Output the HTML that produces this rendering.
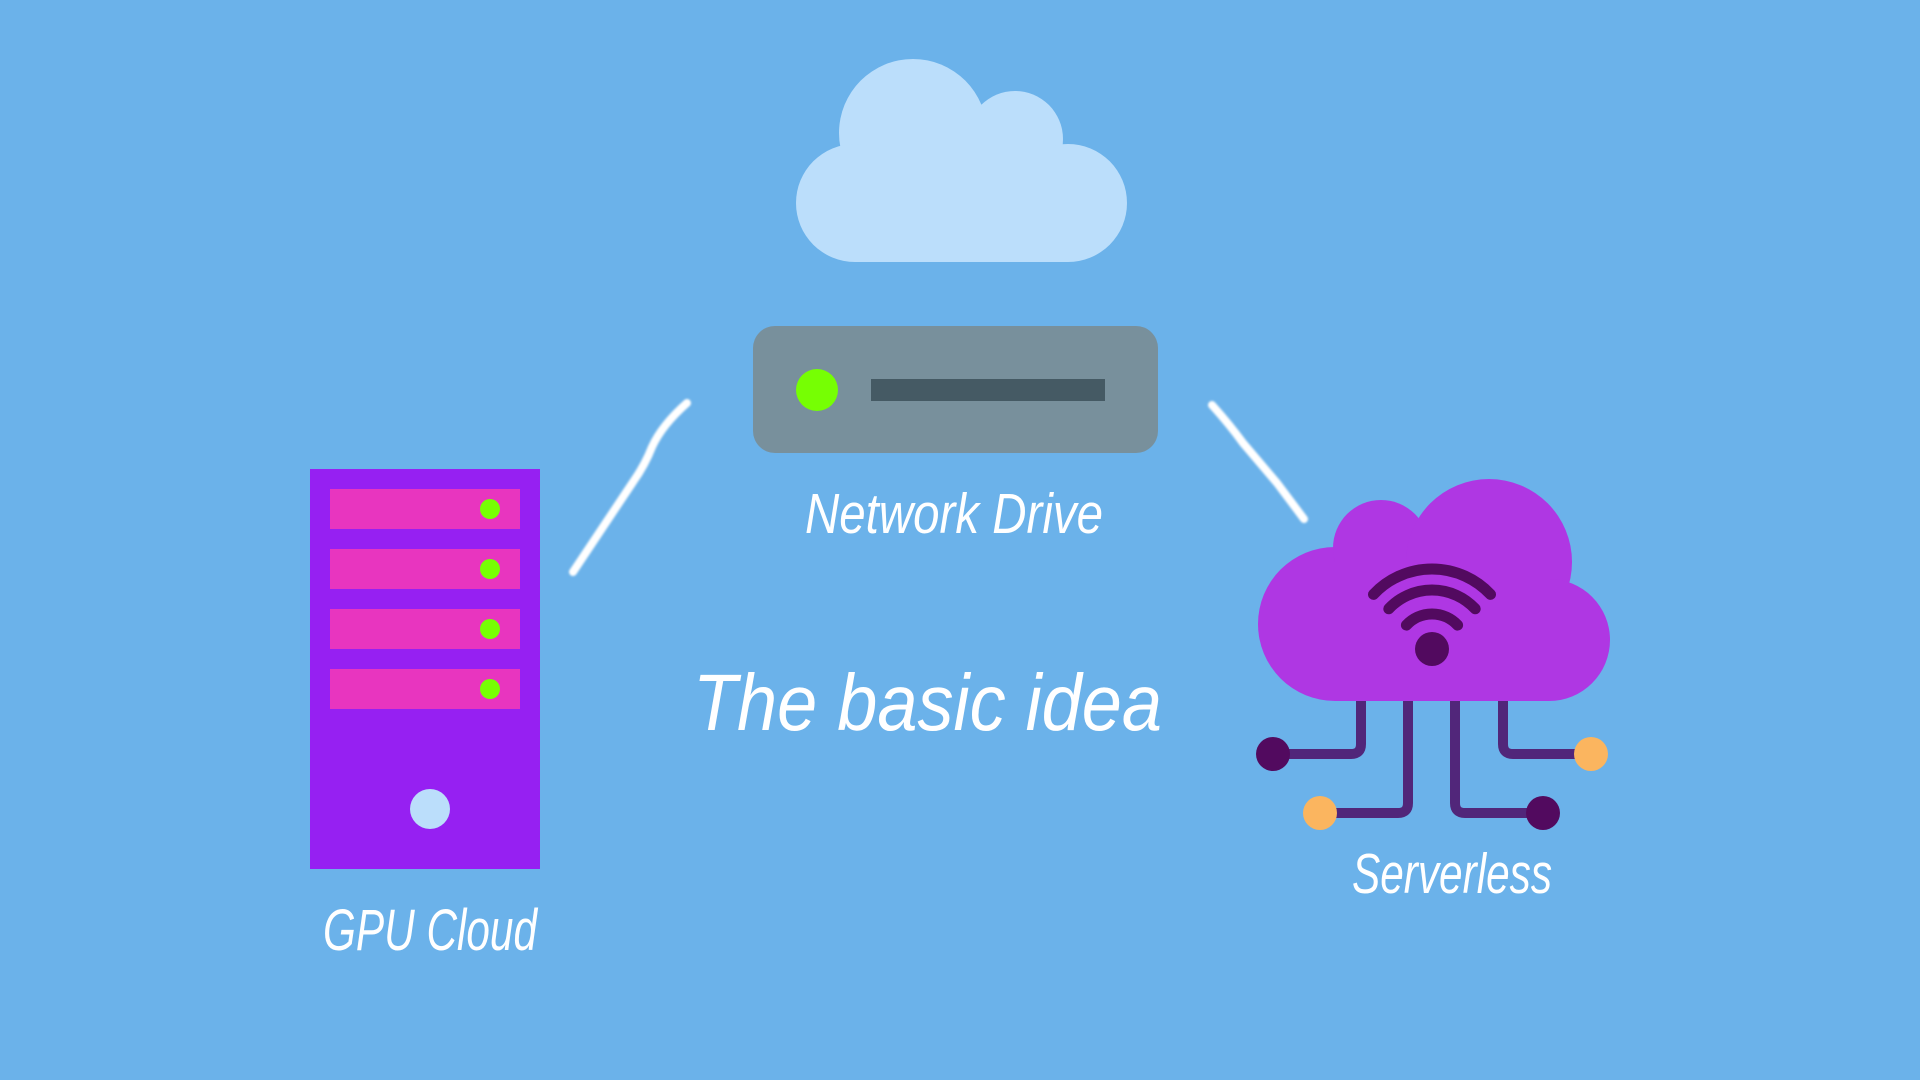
<!DOCTYPE html>
<html>
<head>
<meta charset="utf-8">
<style>
  html, body { margin:0; padding:0; }
  body { width:1920px; height:1080px; overflow:hidden; background:#6bb2ea; }
  svg { display:block; }
  text { font-family: "Liberation Sans", "DejaVu Sans", sans-serif; font-style: italic; fill:#ffffff; }
</style>
</head>
<body>
<svg width="1920" height="1080" viewBox="0 0 1920 1080" xmlns="http://www.w3.org/2000/svg">
  <defs>
    <filter id="soft" x="-20%" y="-20%" width="140%" height="140%">
      <feGaussianBlur stdDeviation="1.1"/>
    </filter>
  </defs>
  <rect x="0" y="0" width="1920" height="1080" fill="#6bb2ea"/>

  <!-- Top light cloud -->
  <g fill="#bbdefb">
    <circle cx="913" cy="133" r="74"/>
    <circle cx="1015" cy="139" r="48"/>
    <circle cx="855" cy="203" r="59"/>
    <circle cx="1068" cy="203" r="59"/>
    <rect x="855" y="150" width="213" height="112"/>
  </g>

  <!-- Network drive -->
  <rect x="753" y="326" width="405" height="127" rx="22" ry="22" fill="#78909c"/>
  <circle cx="817" cy="390" r="21" fill="#76ff03"/>
  <rect x="871" y="379" width="234" height="22" fill="#455a64"/>
  <text x="805" y="533" font-size="57" textLength="298" lengthAdjust="spacingAndGlyphs">Network Drive</text>

  <!-- Connectors -->
  <g fill="none" stroke="#ffffff" stroke-width="8" stroke-linecap="round" filter="url(#soft)">
    <path d="M573,572 L633,482 Q645,465 652,447 Q662,425 687,403"/>
    <path d="M1212,405 Q1230,425 1243,443 Q1260,463 1277,483 L1304,519"/>
  </g>

  <!-- GPU server -->
  <rect x="310" y="469" width="230" height="400" fill="#9620f2"/>
  <g fill="#e835bf">
    <rect x="330" y="489" width="190" height="40"/>
    <rect x="330" y="549" width="190" height="40"/>
    <rect x="330" y="609" width="190" height="40"/>
    <rect x="330" y="669" width="190" height="40"/>
  </g>
  <g fill="#76ff03">
    <circle cx="490" cy="509" r="10"/>
    <circle cx="490" cy="569" r="10"/>
    <circle cx="490" cy="629" r="10"/>
    <circle cx="490" cy="689" r="10"/>
  </g>
  <circle cx="430" cy="809" r="20" fill="#bbdefb"/>
  <text x="323" y="950" font-size="58" textLength="214" lengthAdjust="spacingAndGlyphs">GPU Cloud</text>

  <!-- Serverless circuit lines -->
  <g fill="none" stroke="#51267a" stroke-width="10">
    <path d="M1361,690 V744 Q1361,754 1351,754 H1280"/>
    <path d="M1408,690 V803 Q1408,813 1398,813 H1327"/>
    <path d="M1455,690 V803 Q1455,813 1465,813 H1536"/>
    <path d="M1503,690 V744 Q1503,754 1513,754 H1584"/>
  </g>
  <circle cx="1273" cy="754" r="17" fill="#520a5f"/>
  <circle cx="1591" cy="754" r="17" fill="#fbb55f"/>
  <circle cx="1320" cy="813" r="17" fill="#fbb55f"/>
  <circle cx="1543" cy="813" r="17" fill="#520a5f"/>

  <!-- Serverless purple cloud -->
  <g fill="#af37e3">
    <circle cx="1335" cy="624" r="77"/>
    <circle cx="1381" cy="548" r="48"/>
    <circle cx="1489" cy="562" r="83"/>
    <circle cx="1549" cy="640" r="61"/>
    <rect x="1335" y="560" width="214" height="141"/>
  </g>

  <!-- WiFi icon -->
  <g fill="none" stroke="#520a5f" stroke-width="11" stroke-linecap="round">
    <path d="M1373.5,594.4 A80,80 0 0 1 1490.5,594.4"/>
    <path d="M1388.8,608.8 A59,59 0 0 1 1475.2,608.8"/>
    <path d="M1406.4,625.1 A35,35 0 0 1 1457.6,625.1"/>
  </g>
  <circle cx="1432" cy="649" r="17" fill="#520a5f"/>

  <text x="1352" y="893" font-size="57" textLength="200" lengthAdjust="spacingAndGlyphs">Serverless</text>

  <!-- Title -->
  <text x="693" y="730" font-size="80" textLength="469" lengthAdjust="spacingAndGlyphs">The basic idea</text>
</svg>
</body>
</html>
